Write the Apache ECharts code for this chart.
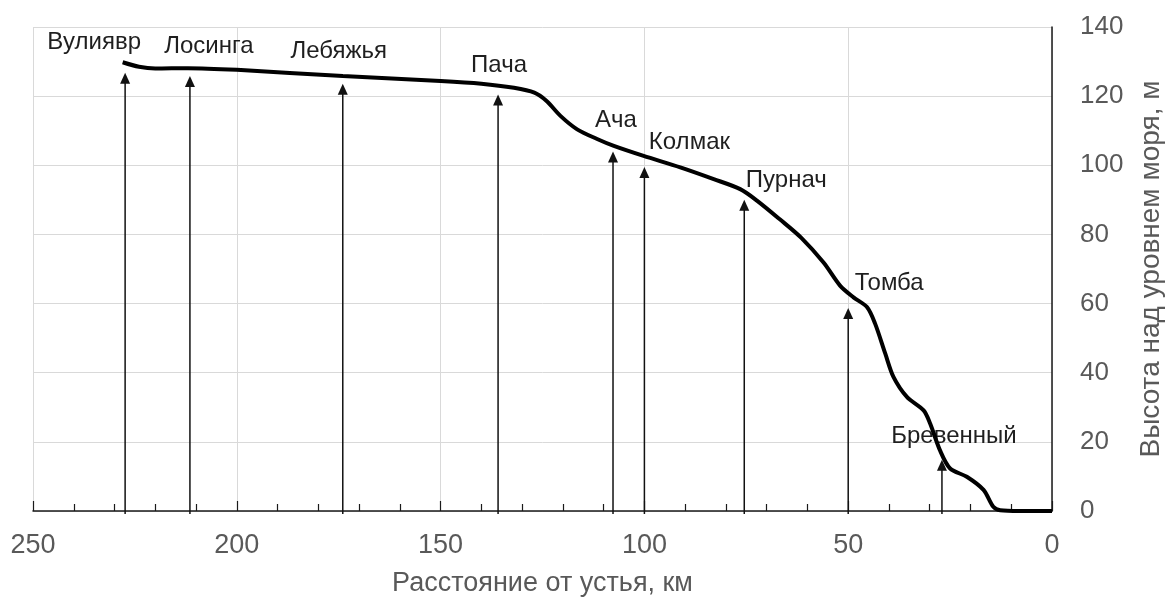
<!DOCTYPE html>
<html>
<head>
<meta charset="utf-8">
<script src="https://cdn.jsdelivr.net/npm/echarts@6/dist/echarts.min.js"></script>
<style>
html,body{margin:0;padding:0;background:#fff;}
#chart{width:1167px;height:599px;}
</style>
</head>
<body>
<div id="chart"></div>
<script>
// Longitudinal profile: distance from mouth (km) and elevation (m)
var profileDistance = [228, 224, 220, 212, 200, 174, 150, 140, 132, 127, 124, 120.6, 116.5, 111.6, 107.5, 100.2, 91.2, 83, 76.5, 72.4, 66.7, 61.5, 56, 52, 48.7, 45.4, 43.4, 40.9, 38.9, 35.6, 31.5, 29.9, 27.5, 25, 20.9, 16.8, 14.4, 12.7, 8, 0];
var profileHeight   = [129.8, 128.5, 128, 128.1, 127.6, 125.8, 124.4, 123.6, 122.4, 121, 118.6, 114.3, 110.4, 107.6, 105.6, 102.7, 99.4, 96, 93.1, 89.8, 84.3, 79, 71.8, 65.2, 61.8, 59, 54.2, 45.5, 38.8, 33, 29.1, 25.3, 17.6, 12.3, 9.9, 6.1, 1.2, 0.2, 0, 0];

// Tributaries: name, distance from mouth (km), arrow tip height (m)
var tributaryNames    = ['Вулиявр', 'Лосинга', 'Лебяжья', 'Пача', 'Ача', 'Колмак', 'Пурнач', 'Томба', 'Бревенный'];
var tributaryDistance = [227.4, 211.5, 174, 135.9, 107.7, 100, 75.5, 50, 27];
var tributaryTip      = [126.8, 125.8, 123.6, 120.5, 104, 99.5, 90, 58.7, 14.8];

// Axis ticks
var xTicks = [250, 200, 150, 100, 50, 0];
var yTicks = [0, 20, 40, 60, 80, 100, 120, 140];

// Layout only: label offsets (px) from the arrow tip
var labelOffsets = [[-31, -30], [19, -30], [-4, -32], [1, -29], [3, -31], [45, -25], [42, -19], [41, -25], [12, -23]];

var FONT = "'Liberation Sans', Arial, sans-serif";

var profileData = profileDistance.map(function (d, i) { return [d, profileHeight[i]]; });
var tribData = tributaryDistance.map(function (d, i) { return [d, tributaryTip[i], i]; });

var chart = echarts.init(document.getElementById('chart'), null, {renderer: 'canvas'});
chart.setOption({
  animation: false,
  backgroundColor: '#ffffff',
  grid: {left: 33, right: 115, top: 27, bottom: 88, containLabel: false, outerBoundsMode: 'none'},
  xAxis: {
    type: 'value',
    inverse: true,
    min: xTicks[xTicks.length - 1],
    max: xTicks[0],
    interval: 50,
    name: 'Расстояние от устья, км',
    nameLocation: 'middle',
    nameGap: 59,
    nameTextStyle: {fontSize: 27, color: '#595959', fontFamily: FONT},
    axisLine: {show: true, onZero: false, lineStyle: {color: '#1a1a1a', width: 1.5}},
    axisTick: {show: true, inside: true, length: 10, lineStyle: {color: '#1a1a1a', width: 1.2}},
    minorTick: {show: true, splitNumber: 5, length: 7, lineStyle: {color: '#1a1a1a', width: 1.2}},
    axisLabel: {fontSize: 27, color: '#595959', margin: 21, fontFamily: FONT},
    splitLine: {show: true, lineStyle: {color: '#d9d9d9', width: 1}}
  },
  yAxis: {
    type: 'value',
    position: 'right',
    min: yTicks[0],
    max: yTicks[yTicks.length - 1],
    interval: 20,
    name: 'Высота над уровнем моря, м',
    nameLocation: 'middle',
    nameGap: 85,
    nameRotate: 90,
    nameTextStyle: {fontSize: 28, color: '#595959', fontFamily: FONT},
    axisLine: {show: true, onZero: false, lineStyle: {color: '#1a1a1a', width: 1.5}},
    axisTick: {show: false},
    axisLabel: {fontSize: 26, color: '#595959', margin: 28, fontFamily: FONT},
    splitLine: {show: true, lineStyle: {color: '#d9d9d9', width: 1}}
  },
  series: [
    {
      type: 'custom',
      z: 3,
      clip: false,
      data: tribData,
      renderItem: function (params, api) {
        var d = api.value(0), h = api.value(1);
        var base = api.coord([d, 0]);
        var tip = api.coord([d, h]);
        var idx = params.dataIndex;
        var off = labelOffsets[idx];
        return {
          type: 'group',
          children: [
            {type: 'line', shape: {x1: base[0], y1: base[1] + 3, x2: tip[0], y2: tip[1] + 8},
             style: {stroke: '#111', lineWidth: 1.5}},
            {type: 'polygon', shape: {points: [[tip[0], tip[1]], [tip[0] - 5, tip[1] + 11], [tip[0] + 5, tip[1] + 11]]},
             style: {fill: '#111'}},
            {type: 'text', x: tip[0] + off[0], y: tip[1] + off[1],
             style: {text: tributaryNames[idx], fontSize: 24, fill: '#1f1f1f', fontFamily: FONT,
                     align: 'center', verticalAlign: 'middle'}}
          ]
        };
      }
    },
    {
      type: 'line',
      z: 4,
      data: profileData,
      smooth: 0.3,
      showSymbol: false,
      symbol: 'none',
      lineStyle: {color: '#000', width: 4},
      silent: true
    }
  ]
});
</script>
</body>
</html>
